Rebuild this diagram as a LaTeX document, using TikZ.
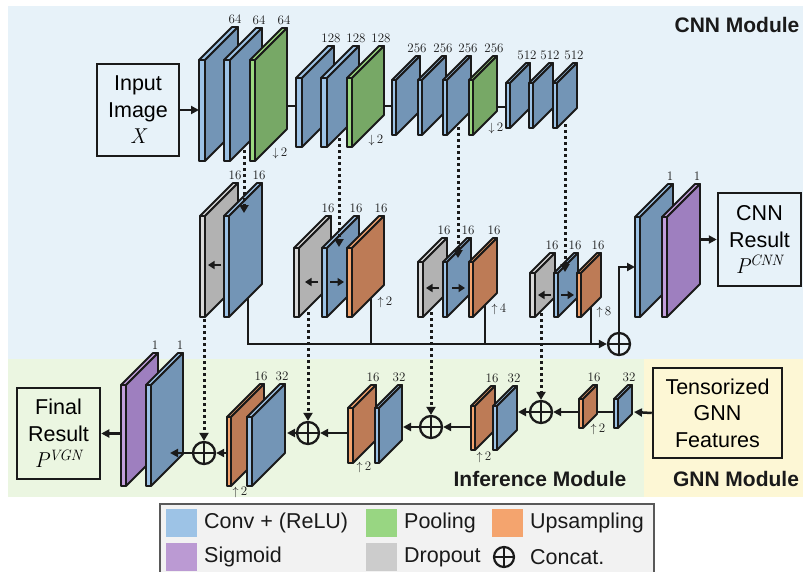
\documentclass[tikz,border=0pt]{standalone}
\usepackage{fontspec}
\setsansfont{Liberation Sans}
\usetikzlibrary{arrows.meta}
\definecolor{bgblue}{HTML}{E7F2F9}
\definecolor{bggreen}{HTML}{EBF6E1}
\definecolor{bgyellow}{HTML}{FDF7D5}
\definecolor{convF}{HTML}{7395B6}
\definecolor{convE}{HTML}{9DC3E6}
\definecolor{poolF}{HTML}{77A866}
\definecolor{poolE}{HTML}{9BD880}
\definecolor{upF}{HTML}{BD7B56}
\definecolor{upE}{HTML}{F4A46E}
\definecolor{dropF}{HTML}{B2B2B2}
\definecolor{dropE}{HTML}{D9D9D9}
\definecolor{sigF}{HTML}{9E7FBF}
\definecolor{sigE}{HTML}{C39FDC}
\definecolor{legbg}{HTML}{F2F2F2}
\definecolor{ink}{HTML}{1A1A1A}
\definecolor{legconv}{HTML}{9DC3E6}
\definecolor{legpool}{HTML}{98D682}
\definecolor{legup}{HTML}{F4A46E}
\definecolor{legsig}{HTML}{BB9AD3}
\definecolor{legdrop}{HTML}{CCCCCC}
\newcommand\mvar[1]{{\rmfamily\itshape #1}}
\newcommand\msup[2]{{\rmfamily\itshape #1\textsuperscript{#2}}}
\tikzset{
  lyrline/.style={draw=ink,line width=1.8pt,line join=round},
  lbl/.style={inner sep=0pt,font=\rmfamily\fontsize{13}{13}\selectfont,text=ink},
  conn/.style={draw=ink,line width=2.5pt},
  arr/.style={conn,-{Triangle[length=8pt,width=8pt]}},
  dotarr/.style={draw=ink,line width=3pt,dash pattern=on 3pt off 3pt,-{Triangle[length=8pt,width=9pt]}},
  inarr/.style={draw=ink,line width=2.4pt,-{Triangle[length=6.5pt,width=8pt]}},
  txtbox/.style={draw=ink,line width=2.5pt,align=center,inner sep=0pt,
    font=\sffamily\fontsize{21.5}{26.5}\selectfont},
  concat/.style={circle,draw=ink,line width=2.3pt,minimum size=22pt,inner sep=0pt,
    path picture={\draw[ink,line width=2.3pt] (path picture bounding box.north) -- (path picture bounding box.south)
      (path picture bounding box.west) -- (path picture bounding box.east);}},
  modtitle/.style={inner sep=0pt,font=\sffamily\bfseries\fontsize{21}{21}\selectfont,text=ink},
  legtxt/.style={inner sep=0pt,anchor=west,font=\sffamily\fontsize{21.5}{21.5}\selectfont,text=ink},
}
% #1 x, #2 ytop, #3 ybot, #4 front width, #5 depth, #6 face colour, #7 edge colour, #8 label
\newcommand\lyr[8]{%
  \pgfmathsetmacro\lyrxa{#1+#4}%
  \filldraw[lyrline,fill=#7] (#1,#2) rectangle (\lyrxa,#3);
  \filldraw[lyrline,fill=#7] (#1,#2) -- (\lyrxa,#2) -- ++(#5,-#5) -- ++(-#4,0) -- cycle;
  \filldraw[lyrline,fill=#6] (\lyrxa,#2) -- ++(#5,-#5) -- ++(0,#3-#2) -- (\lyrxa,#3) -- cycle;
  \node[lbl,anchor=south] at ({\lyrxa+#5-3},{#2-#5-3}) {#8};
}
\begin{document}
\begin{tikzpicture}[x=1pt,y=-1pt]
\useasboundingbox (0,0) rectangle (803,571);
\fill[white] (0,0) rectangle (803,571);
% module regions
\fill[bgblue] (8,6) rectangle (803,359);
\fill[bggreen] (8,359) rectangle (644,497);
\fill[bgyellow] (644,359) rectangle (803,497);
\node[modtitle] (cnnmod) at (737,25) {CNN Module};
\node[modtitle] (infmod) at (540,479) {Inference Module};
\node[modtitle] (gnnmod) at (736,479) {GNN Module};
% text boxes
\node[txtbox,minimum width=82pt,minimum height=92pt] (inp) at (138,110) {Input\\Image\\\mvar{X}};
\node[txtbox,minimum width=83pt,minimum height=93pt] (cnnres) at (759.5,239.5) {CNN\\Result\\\msup{P}{CNN}};
\node[txtbox,minimum width=83pt,minimum height=91pt] (final) at (58.5,433.5) {Final\\Result\\\msup{P}{VGN}};
\node[txtbox,fill=bgyellow,minimum width=129pt,minimum height=90pt] (tens) at (717.5,413) {Tensorized\\GNN\\Features};
% concat nodes
\node[concat] (c0) at (619,344) {};
\node[concat] (c1) at (204,453) {};
\node[concat] (c2) at (308,433) {};
\node[concat] (c3) at (431,427) {};
\node[concat] (c4) at (541,412) {};
% lines behind layers
\draw[conn] (280,106) -- (300,106);
\draw[conn] (378,106) -- (395,106);
\draw[conn] (490,107) -- (508,107);
\draw[arr] (248,290) -- (248,344) -- (c0.west);
\draw[conn] (371,290) -- (371,344);
\draw[conn] (485,300) -- (485,344);
\draw[conn] (591,300) -- (591,344);
\draw[conn] (590,412) -- (616,412);
% CNN encoder
\lyr{199}{60}{161}{6}{33}{convF}{convE}{64}
\lyr{224}{60}{161}{6}{32}{convF}{convE}{64}
\lyr{250}{60}{161}{5}{32}{poolF}{poolE}{64}
\lyr{296}{78}{147}{6}{32}{convF}{convE}{128}
\lyr{321}{78}{147}{6}{32}{convF}{convE}{128}
\lyr{347}{78}{147}{5}{32}{poolF}{poolE}{128}
\lyr{392}{80}{135}{4}{24}{convF}{convE}{256}
\lyr{418}{80}{135}{4}{24}{convF}{convE}{256}
\lyr{443}{80}{135}{4}{24}{convF}{convE}{256}
\lyr{469}{80}{135}{4}{24}{poolF}{poolE}{256}
\lyr{506}{83}{128}{4}{20}{convF}{convE}{512}
\lyr{529}{83}{128}{4}{20}{convF}{convE}{512}
\lyr{553}{83}{128}{4}{20}{convF}{convE}{512}
\node[lbl] (d1) at (280,153) {$\downarrow$\,2};
\node[lbl] (d2) at (376,140) {$\downarrow$\,2};
\node[lbl] (d3) at (496,128) {$\downarrow$\,2};
% CNN decoder branches
\lyr{200}{216}{317}{5}{33}{dropF}{dropE}{16}
\lyr{224}{216}{317}{5}{33}{convF}{convE}{16}
\lyr{294}{248}{317}{5}{32}{dropF}{dropE}{16}
\lyr{322}{248}{317}{5}{32}{convF}{convE}{16}
\lyr{347}{248}{317}{5}{32}{upF}{upE}{16}
\lyr{418}{262}{317}{5}{24}{dropF}{dropE}{16}
\lyr{443}{262}{317}{4}{24}{convF}{convE}{16}
\lyr{469}{262}{317}{4}{24}{upF}{upE}{16}
\lyr{530}{273}{317}{5}{20}{dropF}{dropE}{16}
\lyr{554}{273}{317}{4}{20}{convF}{convE}{16}
\lyr{577}{273}{317}{4}{20}{upF}{upE}{16}
\lyr{635}{217}{317}{5}{33}{convF}{convE}{1}
\lyr{662}{217}{317}{5}{33}{sigF}{sigE}{1}
\node[lbl] (u1) at (385,302) {$\uparrow$\,2};
\node[lbl] (u2) at (499,309) {$\uparrow$\,4};
\node[lbl] (u3) at (604,312) {$\uparrow$\,8};
% inference module
\lyr{121}{385}{486}{5}{32}{sigF}{sigE}{1}
\lyr{146}{385}{486}{5}{32}{convF}{convE}{1}
\lyr{227}{417}{486}{4}{33}{upF}{upE}{16}
\lyr{247}{417}{486}{5}{33}{convF}{convE}{32}
\lyr{348}{408}{463}{5}{23}{upF}{upE}{16}
\lyr{375}{408}{463}{4}{23}{convF}{convE}{32}
\lyr{471}{406}{450}{4}{20}{upF}{upE}{16}
\lyr{493}{406}{450}{4}{20}{convF}{convE}{32}
\lyr{579}{399}{428}{4}{14}{upF}{upE}{16}
\lyr{614}{399}{428}{4}{14}{convF}{convE}{32}
\node[lbl] (u4) at (240,492) {$\uparrow$\,2};
\node[lbl] (u5) at (364,467) {$\uparrow$\,2};
\node[lbl] (u6) at (484,457) {$\uparrow$\,2};
\node[lbl] (u7) at (598,429) {$\uparrow$\,2};
% arrows inside layers
\draw[inarr] (221,265) -- (208,265);
\draw[inarr] (318,282) -- (305,282);
\draw[inarr] (330,282) -- (344,282);
\draw[inarr] (439,288) -- (426,288);
\draw[inarr] (452,288) -- (465,288);
\draw[inarr] (551,295) -- (538,295);
\draw[inarr] (561,295) -- (574,295);
% connectors
\draw[arr] (inp.east) -- (199,110);
\draw[arr] (c0.north) |- (635,267);
\draw[arr] (700,239.5) -- (cnnres.west);
\draw[arr] (121,433.5) -- (final.east);
\draw[arr] (c1.west) -- (170,453);
\draw[arr] (227,453) -- (c1.east);
\draw[arr] (c2.west) -- (287,433);
\draw[arr] (348,433) -- (c2.east);
\draw[arr] (c3.west) -- (403,427);
\draw[arr] (471,427) -- (c3.east);
\draw[arr] (c4.west) -- (518,412);
\draw[arr] (579,412) -- (c4.east);
\draw[arr] (tens.west) -- (634,412);
% skip connections
\draw[dotarr] (244,150) -- (244,213);
\draw[dotarr] (339,138) -- (339,247);
\draw[dotarr] (458,127) -- (458,258);
\draw[dotarr] (565,124) -- (565,272);
\draw[dotarr] (204,319) -- (c1.north);
\draw[dotarr] (308,312) -- (c2.north);
\draw[dotarr] (431,312) -- (c3.north);
\draw[dotarr] (541,313) -- (c4.north);
% legend
\filldraw[fill=legbg,draw=black!65,line width=1.5pt] (160,504) rectangle (654,575);
\fill[legconv] (166,509) rectangle (197,537);
\fill[legpool] (366,509) rectangle (397,537);
\fill[legup] (492,509) rectangle (523,537);
\fill[legsig] (166,543) rectangle (197,571);
\fill[legdrop] (366,543) rectangle (397,571);
\node[legtxt] (lg1) at (204,523) {Conv + (ReLU)};
\node[legtxt] (lg2) at (404,523) {Pooling};
\node[legtxt] (lg3) at (530,523) {Upsampling};
\node[legtxt] (lg4) at (204,557) {Sigmoid};
\node[legtxt] (lg5) at (404,557) {Dropout};
\node[concat,minimum size=20pt,line width=2.2pt] (lgc) at (504,557) {};
\node[legtxt] (lg6) at (530,557) {Concat.};
\end{tikzpicture}
\end{document}
